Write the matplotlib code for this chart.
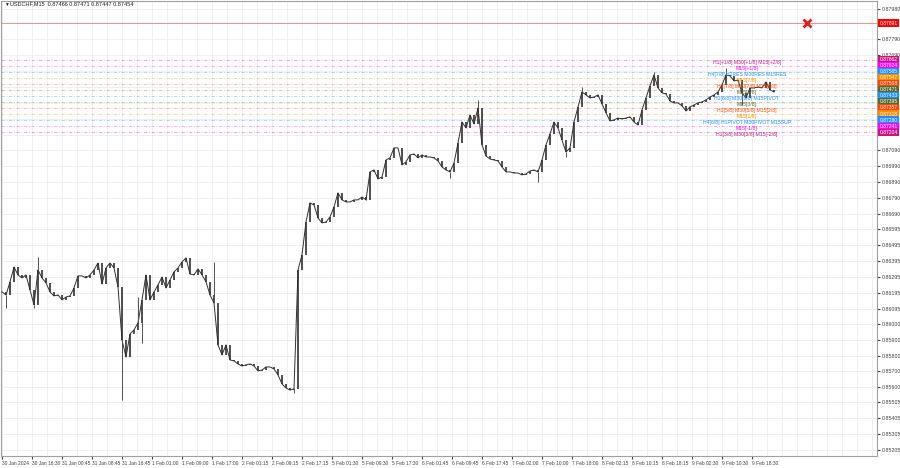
import matplotlib
matplotlib.use("Agg")
import matplotlib.pyplot as plt
from matplotlib.transforms import blended_transform_factory

plt.rcParams["font.family"] = ["Liberation Sans", "DejaVu Sans"]

# header of the chart window
symbol = "USDCHF,M15"
last_ohlc = [0.87466, 0.87471, 0.87447, 0.87454]

# closes, one sample every ~4 M15 bars
closes = [
    0.86200, 0.86181, 0.86263, 0.86357, 0.86307, 0.86288, 0.86307, 0.86212, 0.86118, 0.86338,
    0.86288, 0.86257, 0.86200, 0.86175, 0.86181, 0.86150, 0.86168, 0.86175, 0.86225, 0.86301,
    0.86301, 0.86288, 0.86307, 0.86338, 0.86382, 0.86250, 0.86351, 0.86382, 0.86351, 0.86231,
    0.85898, 0.85791, 0.85936, 0.85961, 0.86005, 0.86150, 0.86307, 0.86150, 0.86200, 0.86244,
    0.86294, 0.86225, 0.86275, 0.86326, 0.86351, 0.86389, 0.86414, 0.86313, 0.86307, 0.86345,
    0.86307, 0.86263, 0.86181, 0.86131, 0.85867, 0.85804, 0.85867, 0.85772, 0.85766, 0.85747,
    0.85734, 0.85741, 0.85747, 0.85734, 0.85703, 0.85709, 0.85728, 0.85728, 0.85716, 0.85678,
    0.85621, 0.85596, 0.85583, 0.85590, 0.86338, 0.86433, 0.86640, 0.86760, 0.86747, 0.86665,
    0.86634, 0.86640, 0.86672, 0.86735, 0.86823, 0.86779, 0.86766, 0.86766, 0.86779, 0.86779,
    0.86797, 0.86779, 0.86955, 0.86967, 0.86911, 0.86923, 0.87030, 0.87043, 0.87106, 0.87106,
    0.86999, 0.87018, 0.87062, 0.87068, 0.87043, 0.87062, 0.87049, 0.87049, 0.87043, 0.87024,
    0.86986, 0.86967, 0.86955, 0.87011, 0.87137, 0.87269, 0.87231, 0.87313, 0.87257, 0.87357,
    0.87125, 0.87055, 0.87036, 0.87030, 0.87024, 0.86986, 0.86955, 0.86955, 0.86948, 0.86948,
    0.86936, 0.86942, 0.86961, 0.86967, 0.86955, 0.87030, 0.87125, 0.87194, 0.87269, 0.87231,
    0.87156, 0.87080, 0.87106, 0.87269, 0.87364, 0.87458, 0.87439, 0.87420, 0.87426, 0.87439,
    0.87382, 0.87326, 0.87276, 0.87282, 0.87294, 0.87288, 0.87294, 0.87301, 0.87269, 0.87250,
    0.87345, 0.87420, 0.87496, 0.87565, 0.87483, 0.87452, 0.87445, 0.87401, 0.87389, 0.87389,
    0.87370, 0.87338, 0.87364, 0.87376, 0.87389, 0.87395, 0.87408, 0.87426, 0.87439, 0.87458,
    0.87502, 0.87565, 0.87559, 0.87527, 0.87533, 0.87452, 0.87420, 0.87483, 0.87483, 0.87489,
    0.87483, 0.87521, 0.87471, 0.87458,
]

# long wicks that stick out of the line
wick_idx = [1, 8, 9, 30, 34, 35, 53, 73, 91, 112, 119, 134, 141, 145, 163, 181, 185]
wick_to = [0.86099, 0.86099, 0.86420, 0.85521, 0.86168, 0.85879, 0.86389, 0.85565, 0.86785,
           0.86917, 0.87408, 0.86892, 0.87049, 0.87489, 0.87584, 0.87609, 0.87376]

time_labels = [
    "30 Jan 2024", "30 Jan 16:30", "31 Jan 00:45", "31 Jan 08:45", "31 Jan 16:45",
    "1 Feb 01:00", "1 Feb 09:00", "1 Feb 17:00", "2 Feb 01:15", "2 Feb 09:15",
    "2 Feb 17:15", "5 Feb 01:30", "5 Feb 09:30", "5 Feb 17:30", "6 Feb 01:45",
    "6 Feb 09:45", "6 Feb 17:45", "7 Feb 02:00", "7 Feb 10:00", "7 Feb 18:00",
    "8 Feb 02:15", "8 Feb 10:15", "8 Feb 18:15", "9 Feb 02:30", "9 Feb 10:30",
    "9 Feb 18:30",
]

price_ticks = [0.87980, 0.87890, 0.87790, 0.87690, 0.87590, 0.87490, 0.87390, 0.87290,
               0.87190, 0.87090, 0.86990, 0.86890, 0.86790, 0.86690, 0.86595, 0.86495,
               0.86395, 0.86295, 0.86195, 0.86095, 0.86000, 0.85900, 0.85800, 0.85700,
               0.85600, 0.85505, 0.85405, 0.85305, 0.85205]
hidden_ticks = [0.87890, 0.87590, 0.87490, 0.87390, 0.87290, 0.87190]

# murrey math levels
levels = [0.87662, 0.87624, 0.87585, 0.87547, 0.87508, 0.87471, 0.87433,
          0.87395, 0.87357, 0.87318, 0.87280, 0.87241, 0.87204]
level_names = [
    "H1[+1/8] M30[+1/8] M15[+2/8]", "M15[+1/8]", "H4[7/8] H1RES M30RES M15RES",
    "M15[7/8]", "H1[7/8] M30[7/8] M15[6/8]", "M15[5/8]", "H1[6/8] M30[6/8] M15PIVOT",
    "M15[3/8]", "H1[5/8] M30[5/8] M15[2/8]", "M15[1/8]", "H4[6/8] H1PIVOT M30PIVOT M15SUP",
    "M15[-1/8]", "H1[3/8] M30[3/8] M15[-2/8]",
]
level_colors = ["#C71585", "#FF00FF", "#1E90FF", "#FF8C00", "#FF4500", "#556B2F", "#1E90FF",
                "#556B2F", "#FF4500", "#FF8C00", "#1E90FF", "#FF00FF", "#C71585"]

alert_price = 0.87891
alert_bar = 201.3

fig = plt.figure(figsize=(9, 4.68), dpi=100)
ax = fig.add_axes([1 / 900, 12 / 468, 876 / 900, 455 / 468])
ax.set_xlim(-0.25, 218.75)
ax.set_ylim(0.85168, 0.88030)

# grid
for k in range(60):
    ax.axvline(k * 3.75, color="#EDEDED", lw=0.6, zorder=0)
for p in price_ticks:
    ax.axhline(p, color="#EDEDED", lw=0.6, zorder=0)

# levels
for p, c in zip(levels, level_colors):
    ax.axhline(p, color=c, lw=0.6, alpha=0.4, ls=(0, (4, 2, 1, 2)), zorder=1)
ax.axhline(alert_price, color="#FF5050", lw=0.7, alpha=0.6, zorder=1)

# candles
n = len(closes)
xs = list(range(n))
opens = [closes[0]] + closes[:-1]
lo = [min(o, c) for o, c in zip(opens, closes)]
hi = [max(o, c) for o, c in zip(opens, closes)]
ax.vlines(xs, lo, hi, color="#303030", lw=1.2, zorder=3)
ax.plot(xs, closes, color="#303030", lw=0.7, zorder=3)
ax.vlines(wick_idx, [closes[i] for i in wick_idx], wick_to, color="#505050", lw=0.7, zorder=3)

# level names
for p, c, name in zip(levels, level_colors, level_names):
    ax.text(186.2, p, name, color=c, fontsize=3.7, ha="center", va="top", zorder=4)

ax.plot([alert_bar], [alert_price], marker="x", color="#E02020", ms=6, mew=2, zorder=5)

# right price axis
ax.yaxis.tick_right()
ax.set_yticks(price_ticks)
ax.set_yticklabels(["" if p in hidden_ticks else "%.5f" % p for p in price_ticks])
ax.tick_params(axis="y", labelsize=3.8, length=2, pad=1.5, colors="#404040")

ax.set_xticks([k * 7.5 for k in range(len(time_labels))])
ax.set_xticklabels(time_labels, ha="left")
ax.tick_params(axis="x", labelsize=3.5, length=2, pad=1.5, colors="#404040")

for s in ax.spines.values():
    s.set_color("#A0A0A0")
    s.set_linewidth(0.8)

# price boxes on the right
tr = blended_transform_factory(ax.transAxes, ax.transData)
for p, c in zip(levels + [alert_price], level_colors + ["#FF0000"]):
    ax.text(1.003, p, "%.5f" % p, transform=tr, fontsize=3.6, color="white", va="center",
            ha="left", bbox=dict(boxstyle="square,pad=0.25", fc=c, ec="none"), zorder=6,
            clip_on=False)

fig.text(4 / 900, 1 - 4 / 468, "\u25bc", fontsize=3.5, va="center", color="#202020")
fig.text(10 / 900, 1 - 4 / 468, "%s  %.5f %.5f %.5f %.5f" % (symbol, *last_ohlc),
         fontsize=4, va="center", color="#202020")

fig.savefig("out.png", dpi=100)
